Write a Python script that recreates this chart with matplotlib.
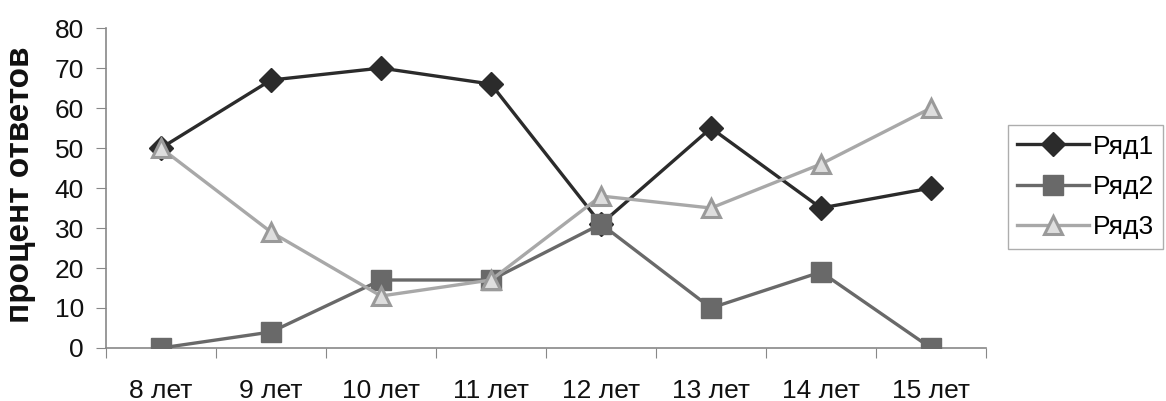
import matplotlib
matplotlib.use("Agg")
import matplotlib.pyplot as plt

plt.rcParams['font.family'] = ['Liberation Sans', 'DejaVu Sans']

categories = ["8 лет", "9 лет", "10 лет", "11 лет", "12 лет", "13 лет", "14 лет", "15 лет"]
row1 = [50, 67, 70, 66, 31, 55, 35, 40]
row2 = [0, 4, 17, 17, 31, 10, 19, 0]
row3 = [50, 29, 13, 17, 38, 35, 46, 60]
series_names = ["Ряд1", "Ряд2", "Ряд3"]
y_label = "процент ответов"

fig = plt.figure(figsize=(11.66, 4.01), dpi=100)
ax = fig.add_axes([0.0909, 0.1322, 0.7547, 0.7978])

x = list(range(len(categories)))
ax.plot(x, row1, color='#2b2b2b', lw=2.4, marker='D', ms=12, mfc='#2b2b2b', mec='#2b2b2b', label=series_names[0], zorder=3)
ax.plot(x, row2, color='#696969', lw=2.4, marker='s', ms=14, mfc='#696969', mec='#696969', label=series_names[1], zorder=4)
ax.plot(x, row3, color='#a8a8a8', lw=2.4, marker='^', ms=13, mfc='#dedede', mec='#9a9a9a', mew=2.2, label=series_names[2], zorder=5)

ax.set_xlim(-0.5, len(categories) - 0.5)
ax.set_ylim(0, 80)
ax.set_yticks(range(0, 81, 10))
ax.set_xticks([i - 0.5 for i in range(len(categories) + 1)], minor=False)
ax.set_xticklabels([])
ax.set_xticks(x, minor=True)
ax.set_xticklabels(categories, minor=True)
ax.tick_params(axis='x', which='minor', length=0, labelsize=19, pad=22, colors='#111111')
ax.tick_params(axis='x', which='major', length=7, color='#888888', direction='out')
ax.tick_params(axis='y', length=7, color='#888888', labelsize=19, pad=9, labelcolor='#111111')

for s in ['top', 'right']:
    ax.spines[s].set_visible(False)
for s in ['left', 'bottom']:
    ax.spines[s].set_color('#888888')
    ax.spines[s].set_linewidth(1.2)

ax.set_ylabel(y_label, fontsize=24, fontweight='bold', color='#111111')
ax.yaxis.set_label_coords(-0.080, 0.51)

leg = fig.legend(loc='center right', bbox_to_anchor=(1163 / 1166, 1 - 187 / 401),
                 bbox_transform=fig.transFigure, fontsize=19, frameon=True,
                 fancybox=False, edgecolor='#999999', handlelength=2.7, handletextpad=0.15,
                 borderpad=0.35, labelspacing=0.62, borderaxespad=0)
leg.get_frame().set_linewidth(1.0)

fig.savefig("out.png", dpi=100)
